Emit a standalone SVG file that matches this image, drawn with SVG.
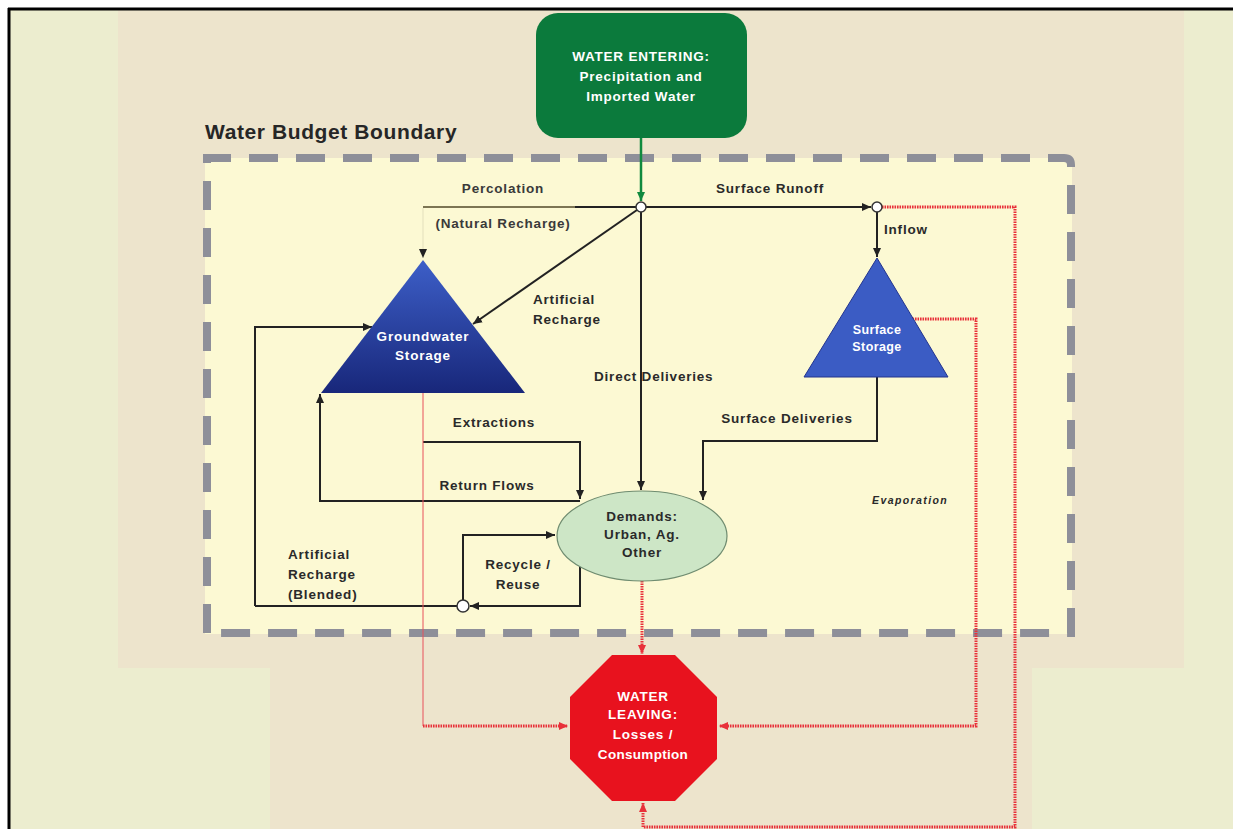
<svg xmlns="http://www.w3.org/2000/svg" width="1233" height="829" viewBox="0 0 1233 829">
<defs>
<style>
.lbl{font-family:"Liberation Sans",Arial,sans-serif;font-weight:bold;font-size:13.5px;fill:#2a2a2a;letter-spacing:0.8px}
.wt{fill:#ffffff}
.ln{stroke:#222;stroke-width:2;fill:none}
.red{stroke:#e8313a;stroke-width:3;stroke-dasharray:1.6 0.9;fill:none}
.redthin{stroke:#e8505a;stroke-width:1;fill:none}
.jn{fill:#ffffff;stroke:#333;stroke-width:1.5}
</style>
<marker id="ab" markerUnits="userSpaceOnUse" markerWidth="10" markerHeight="10" refX="9" refY="5" orient="auto"><path d="M0,1 L9,5 L0,9 z" fill="#222"/></marker>
<marker id="ar" markerUnits="userSpaceOnUse" markerWidth="10" markerHeight="10" refX="9" refY="5" orient="auto"><path d="M0,1 L9,5 L0,9 z" fill="#e8313a"/></marker>
<marker id="ag" markerUnits="userSpaceOnUse" markerWidth="10" markerHeight="10" refX="9" refY="5" orient="auto"><path d="M0,1 L9,5 L0,9 z" fill="#108a3e"/></marker>
<linearGradient id="gw" x1="0" y1="0" x2="0" y2="1"><stop offset="0" stop-color="#3d5fc8"/><stop offset="1" stop-color="#18277a"/></linearGradient>
</defs>

<g id="background">
<rect x="0" y="0" width="1233" height="829" fill="#ffffff"/>
<rect x="9" y="9" width="1224" height="820" fill="#ecedcf"/>
<rect x="118" y="10" width="1066" height="658" fill="#ede4cc"/>
<rect x="270" y="668" width="762" height="161" fill="#ede4cc"/>
<rect x="205" y="158" width="867" height="476" fill="#fcf9d3"/>
<line x1="8" y1="9" x2="1233" y2="9" stroke="#000" stroke-width="3"/>
<line x1="9" y1="8" x2="9" y2="829" stroke="#000" stroke-width="3"/>
</g>

<g id="boundary">
<path d="M207,633 L207,158 L1064,158 Q1071,158 1071,165 L1071,633 Z" fill="none" stroke="#8e8f99" stroke-width="8" stroke-dasharray="29 18"/>
<text x="205" y="139" style="font-family:'Liberation Sans',Arial,sans-serif;font-weight:bold;font-size:21px;letter-spacing:0.6px;fill:#262626">Water Budget Boundary</text>
</g>

<g id="connectors">
<line x1="641" y1="138" x2="641" y2="201" stroke="#108a3e" stroke-width="2.5" marker-end="url(#ag)"/>
<line x1="423" y1="207" x2="575" y2="207" stroke="#7c7553" stroke-width="2"/>
<line x1="575" y1="207" x2="636" y2="207" class="ln"/>
<line x1="423" y1="208" x2="423" y2="258" stroke="#e3dfbc" stroke-width="1" marker-end="url(#ab)"/>
<line x1="646" y1="207" x2="871" y2="207" class="ln" marker-end="url(#ab)"/>
<line x1="637" y1="210" x2="473" y2="324" class="ln" marker-end="url(#ab)"/>
<line x1="641" y1="212" x2="641" y2="490" class="ln" marker-end="url(#ab)"/>
<line x1="877" y1="212" x2="877" y2="257" class="ln" marker-end="url(#ab)"/>
<polyline points="255,606 255,327 372,327" class="ln" marker-end="url(#ab)"/>
<polyline points="423,442 580,442 580,499" class="ln" marker-end="url(#ab)"/>
<polyline points="580,501 320,501 320,394" class="ln" marker-end="url(#ab)"/>
<line x1="255" y1="606" x2="457" y2="606" class="ln"/>
<polyline points="463,600 463,535 555,535" class="ln" marker-end="url(#ab)"/>
<polyline points="580,566 580,606 470,606" class="ln" marker-end="url(#ab)"/>
<polyline points="877,377 877,441 703,441 703,500" class="ln" marker-end="url(#ab)"/>
<line x1="423" y1="393" x2="423" y2="726" class="redthin"/>
<line x1="423" y1="726" x2="568" y2="726" class="red" marker-end="url(#ar)"/>
<line x1="642" y1="581" x2="642" y2="654" class="red" marker-end="url(#ar)"/>
<polyline points="910,319 976,319 976,726 719,726" class="red" marker-end="url(#ar)"/>
<polyline points="882,207 1015,207 1015,827 643,827 643,803" class="red" marker-end="url(#ar)"/>
<circle cx="641" cy="207" r="5" class="jn"/>
<circle cx="877" cy="207" r="5" class="jn"/>
<circle cx="463" cy="606" r="6" class="jn"/>
</g>

<g id="labels">
<text x="503" y="193" text-anchor="middle" class="lbl" style="fill:#3a3a3a">Percolation</text>
<text x="503" y="228" text-anchor="middle" class="lbl" style="fill:#3a3a3a">(Natural Recharge)</text>
<text x="770" y="193" text-anchor="middle" class="lbl">Surface Runoff</text>
<text x="884" y="234" class="lbl">Inflow</text>
<text x="533" y="304" class="lbl">Artificial</text>
<text x="533" y="324" class="lbl">Recharge</text>
<text x="594" y="381" class="lbl">Direct Deliveries</text>
<text x="494" y="427" text-anchor="middle" class="lbl">Extractions</text>
<text x="487" y="490" text-anchor="middle" class="lbl">Return Flows</text>
<text x="787" y="423" text-anchor="middle" class="lbl">Surface Deliveries</text>
<text x="872" y="504" class="lbl" style="font-size:10.5px;letter-spacing:1.4px;font-style:italic">Evaporation</text>
<text x="288" y="559" class="lbl">Artificial</text>
<text x="288" y="579" class="lbl">Recharge</text>
<text x="288" y="599" class="lbl">(Blended)</text>
<text x="518" y="569" text-anchor="middle" class="lbl">Recycle /</text>
<text x="518" y="589" text-anchor="middle" class="lbl">Reuse</text>
</g>

<g id="water-entering">
<rect x="536" y="13" width="211" height="125" rx="22" fill="#0b7a3c"/>
<text x="641" y="61" text-anchor="middle" class="lbl wt">WATER ENTERING:</text>
<text x="641" y="81" text-anchor="middle" class="lbl wt">Precipitation and</text>
<text x="641" y="101" text-anchor="middle" class="lbl wt">Imported Water</text>
</g>

<g id="groundwater-storage">
<polygon points="423,260 525,393 321,393" fill="url(#gw)"/>
<text x="423" y="341" text-anchor="middle" class="lbl wt">Groundwater</text>
<text x="423" y="360" text-anchor="middle" class="lbl wt">Storage</text>
</g>

<g id="surface-storage">
<polygon points="877,258 948,377 804,377" fill="#3b5cc4" stroke="#23358f" stroke-width="1"/>
<text x="877" y="334" text-anchor="middle" class="lbl wt" style="font-size:12.5px;letter-spacing:0.4px">Surface</text>
<text x="877" y="351" text-anchor="middle" class="lbl wt" style="font-size:12.5px;letter-spacing:0.4px">Storage</text>
</g>

<g id="demands">
<ellipse cx="642" cy="536" rx="85" ry="45" fill="#cde6c6" stroke="#6f8c70" stroke-width="1.2"/>
<text x="642" y="521" text-anchor="middle" class="lbl">Demands:</text>
<text x="642" y="539" text-anchor="middle" class="lbl">Urban, Ag.</text>
<text x="642" y="557" text-anchor="middle" class="lbl">Other</text>
</g>

<g id="water-leaving">
<polygon points="612,655 675,655 717,697 717,759 675,801 612,801 570,759 570,697" fill="#e8121e"/>
<text x="643" y="701" text-anchor="middle" class="lbl wt">WATER</text>
<text x="643" y="719" text-anchor="middle" class="lbl wt">LEAVING:</text>
<text x="643" y="739" text-anchor="middle" class="lbl wt">Losses /</text>
<text x="643" y="759" text-anchor="middle" class="lbl wt" style="letter-spacing:0.3px">Consumption</text>
</g>
</svg>
